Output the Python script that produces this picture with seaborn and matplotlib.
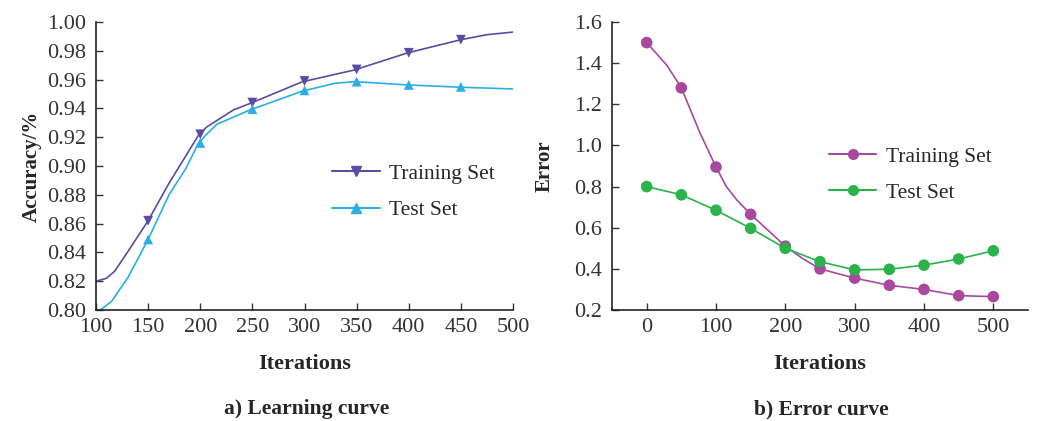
import matplotlib
matplotlib.use("Agg")
import matplotlib.pyplot as plt
from matplotlib.lines import Line2D
import seaborn as sns

# a) learning curve - line points
acc_train_x = [100, 110, 118, 131, 150, 170, 198, 206, 232, 248, 298, 348, 399, 450, 475, 500]
acc_train_y = [0.820, 0.822, 0.827, 0.841, 0.862, 0.888, 0.921, 0.927, 0.939, 0.9435, 0.9585, 0.9667, 0.9786, 0.9877, 0.9912, 0.993]
acc_test_x = [100, 104, 115, 131, 150, 170, 186, 198, 206, 216, 248, 298, 329, 348, 399, 450, 500]
acc_test_y = [0.799, 0.800, 0.806, 0.823, 0.849, 0.880, 0.898, 0.9155, 0.922, 0.929, 0.939, 0.952, 0.9574, 0.9586, 0.9563, 0.9547, 0.9535]
# markers only at these iterations
acc_mark_x = [150, 200, 250, 300, 350, 400, 450]
acc_train_mark = [0.862, 0.922, 0.944, 0.959, 0.967, 0.9786, 0.9877]
acc_test_mark = [0.849, 0.916, 0.9395, 0.9525, 0.9586, 0.9563, 0.9550]

# b) error curve (markers every 50 iterations, extra line points where it bends)
err_mark_x = [0, 50, 100, 150, 200, 250, 300, 350, 400, 450, 500]
err_train = [1.50, 1.28, 0.895, 0.665, 0.51, 0.40, 0.355, 0.32, 0.30, 0.27, 0.265]
err_test = [0.80, 0.76, 0.685, 0.597, 0.50, 0.435, 0.395, 0.398, 0.418, 0.448, 0.488]
err_train_line_x = [0, 29, 50, 77, 100, 115, 130, 150, 200, 225, 250, 300, 350, 400, 450, 500]
err_train_line_y = [1.50, 1.39, 1.28, 1.06, 0.895, 0.80, 0.735, 0.665, 0.51, 0.45, 0.40, 0.355, 0.32, 0.30, 0.27, 0.265]

acc_ticks_x = [100, 150, 200, 250, 300, 350, 400, 450, 500]
acc_ticks_y = [0.80, 0.82, 0.84, 0.86, 0.88, 0.90, 0.92, 0.94, 0.96, 0.98, 1.00]
err_ticks_x = [0, 100, 200, 300, 400, 500]
err_ticks_y = [0.2, 0.4, 0.6, 0.8, 1.0, 1.2, 1.4, 1.6]

sns.set_theme(style="ticks")
plt.rcParams["font.family"] = ["Liberation Serif", "DejaVu Serif"]

C_TR1, C_TE1 = "#5a4ba3", "#2aaee4"
C_TR2, C_TE2 = "#a8489f", "#2bb24a"
FS = 16

fig = plt.figure(figsize=(10.46, 4.21), dpi=100)
ax1 = fig.add_axes([96 / 1046, 111 / 421, 417 / 1046, 288 / 421])
ax2 = fig.add_axes([612 / 1046, 111 / 421, 416 / 1046, 288 / 421])

# left panel
sns.lineplot(x=acc_train_x, y=acc_train_y, ax=ax1, color=C_TR1, lw=1.2)
sns.lineplot(x=acc_test_x, y=acc_test_y, ax=ax1, color=C_TE1, lw=1.2)
sns.scatterplot(x=acc_mark_x, y=acc_train_mark, ax=ax1, color=C_TR1, marker="v", s=50, edgecolor="none", zorder=3)
sns.scatterplot(x=acc_mark_x, y=acc_test_mark, ax=ax1, color=C_TE1, marker="^", s=50, edgecolor="none", zorder=3)
ax1.set_xlim(100, 500)
ax1.set_ylim(0.80, 1.00)
ax1.set_xticks(acc_ticks_x)
ax1.set_yticks(acc_ticks_y)
ax1.set_yticklabels([f"{v:.2f}" for v in acc_ticks_y])
ax1.set_xlabel("Iterations", fontsize=FS, fontweight="bold", labelpad=12)
ax1.set_ylabel("Accuracy/%", fontsize=FS - 1, fontweight="bold", labelpad=4)
h1 = [Line2D([], [], color=C_TR1, marker="v", ms=7, lw=1.5),
      Line2D([], [], color=C_TE1, marker="^", ms=7, lw=1.5)]
ax1.legend(h1, ["Training Set", "Test Set"], loc="center left", bbox_to_anchor=(0.52, 0.41),
           frameon=False, fontsize=15.5, handlelength=2.2, handletextpad=0.45, labelspacing=0.75)

# right panel
sns.lineplot(x=err_train_line_x, y=err_train_line_y, ax=ax2, color=C_TR2, lw=1.2)
sns.lineplot(x=err_mark_x, y=err_test, ax=ax2, color=C_TE2, lw=1.2)
sns.scatterplot(x=err_mark_x, y=err_train, ax=ax2, color=C_TR2, s=70, edgecolor="none", zorder=3)
sns.scatterplot(x=err_mark_x, y=err_test, ax=ax2, color=C_TE2, s=70, edgecolor="none", zorder=3)
ax2.set_xlim(-50, 550)
ax2.set_ylim(0.2, 1.6)
ax2.set_xticks(err_ticks_x)
ax2.set_yticks(err_ticks_y)
ax2.set_yticklabels([f"{v:.1f}" for v in err_ticks_y])
ax2.set_xlabel("Iterations", fontsize=FS, fontweight="bold", labelpad=12)
ax2.set_ylabel("Error", fontsize=FS - 1, fontweight="bold", labelpad=14)
h2 = [Line2D([], [], color=C_TR2, marker="o", ms=8, lw=1.5, mec="none"),
      Line2D([], [], color=C_TE2, marker="o", ms=8, lw=1.5, mec="none")]
ax2.legend(h2, ["Training Set", "Test Set"], loc="center left", bbox_to_anchor=(0.475, 0.47),
           frameon=False, fontsize=15.5, handlelength=2.2, handletextpad=0.45, labelspacing=0.75)

for ax in (ax1, ax2):
    sns.despine(ax=ax)
    ax.tick_params(direction="in", length=5, width=1, labelsize=FS, colors="#333333")
    ax.tick_params(axis="x", pad=6)
    ax.tick_params(axis="y", pad=7)
    for s in ("left", "bottom"):
        ax.spines[s].set_color("#222222")
        ax.spines[s].set_linewidth(1.2)

fig.text(307 / 1046, 1 - 409 / 421, "a) Learning curve", ha="center", va="center", fontsize=15.5, fontweight="bold")
fig.text(821 / 1046, 1 - 409 / 421, "b) Error curve", ha="center", va="center", fontsize=15.5, fontweight="bold")

fig.savefig("out.png", dpi=100)
